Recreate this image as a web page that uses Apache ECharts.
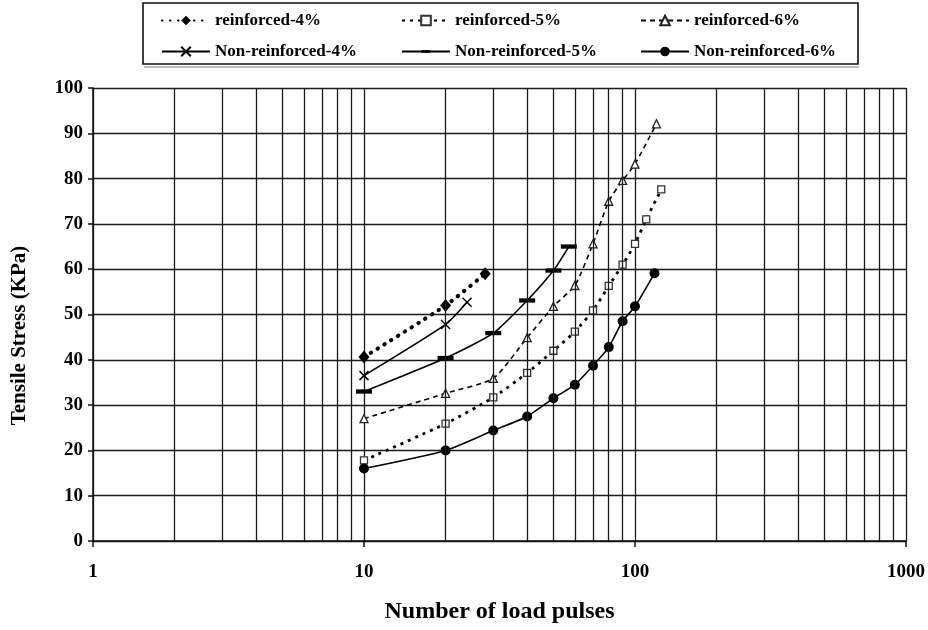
<!DOCTYPE html>
<html>
<head>
<meta charset="utf-8">
<script src="https://cdn.jsdelivr.net/npm/echarts@6/dist/echarts.min.js"></script>
<style>
  html, body { margin: 0; padding: 0; background: #fff; }
  #chart { width: 928px; height: 630px; }
</style>
</head>
<body>
<div id="chart"></div>
<script>
// Tensile stress versus number of load pulses (log scale)
const seriesNames = [
  'reinforced-4%', 'reinforced-5%', 'reinforced-6%',
  'Non-reinforced-4%', 'Non-reinforced-5%', 'Non-reinforced-6%'
];

const pulsesR4 = [10, 20, 28];
const stressR4 = [40.6, 52.0, 59.0];

const pulsesR5 = [10, 20, 30, 40, 50, 60, 70, 80, 90, 100, 110, 125];
const stressR5 = [17.8, 25.9, 31.7, 37.1, 42.0, 46.2, 50.9, 56.3, 61.0, 65.6, 71.0, 77.6];

const pulsesR6 = [10, 20, 30, 40, 50, 60, 70, 80, 90, 100, 120];
const stressR6 = [27.0, 32.6, 35.9, 44.9, 51.8, 56.4, 65.6, 75.0, 79.6, 83.2, 92.1];

const pulsesN4 = [10, 20, 24];
const stressN4 = [36.5, 47.8, 52.7];

const pulsesN5 = [10, 20, 30, 40, 50, 57];
const stressN5 = [33.0, 40.4, 45.9, 53.1, 59.7, 65.0];

const pulsesN6 = [10, 20, 30, 40, 50, 60, 70, 80, 90, 100, 118];
const stressN6 = [16.0, 20.0, 24.4, 27.5, 31.5, 34.5, 38.7, 42.8, 48.5, 51.8, 59.1];

// vertical grid lines between the decades
const minorGridX = [2, 3, 4, 5, 6, 7, 8, 9, 20, 30, 40, 50, 60, 70, 80, 90,
                    200, 300, 400, 500, 600, 700, 800, 900];

const FONT = 'Liberation Serif';
const pairs = (xs, ys) => xs.map((x, i) => [x, ys[i]]);

// marker shapes: a cross, and a flat dash kept inside a square box
const CROSS = 'path://M0,0L10,10M10,0L0,10';
const DASH = 'path://M0,0M30,30M0,11H30V19H0Z';

const chart = echarts.init(document.getElementById('chart'), null, { renderer: 'canvas' });

function legendAt(name, left, top) {
  return {
    data: [name], left: left, top: top,
    itemWidth: 48, itemHeight: 12, itemGap: 0,
    padding: 0,
    textStyle: { fontFamily: FONT, fontWeight: 'bold', fontSize: 17, color: '#000' },
    selectedMode: false
  };
}

const option = {
  animation: false,
  backgroundColor: '#fff',
  grid: { left: 93, right: 22, top: 88, bottom: 89, containLabel: false },
  legend: [
    legendAt(seriesNames[0], 161, 12),
    legendAt(seriesNames[1], 401, 12),
    legendAt(seriesNames[2], 640, 12),
    legendAt(seriesNames[3], 161, 43),
    legendAt(seriesNames[4], 401, 43),
    legendAt(seriesNames[5], 640, 43)
  ],
  graphic: [
    { type: 'rect', shape: { x: 143, y: 3, width: 715, height: 61 },
      style: { fill: 'none', stroke: '#111', lineWidth: 1.6 }, z: 100 },
    { type: 'line', shape: { x1: 144, y1: 67, x2: 859, y2: 67 },
      style: { stroke: '#777', lineWidth: 1.2 }, z: 100 }
  ],
  xAxis: {
    type: 'log', logBase: 10, min: 1, max: 1000,
    name: 'Number of load pulses', nameLocation: 'middle', nameGap: 59,
    nameTextStyle: { fontFamily: FONT, fontWeight: 'bold', fontSize: 24, color: '#000' },
    axisLine: { show: true, lineStyle: { color: '#111', width: 1.5 } },
    axisTick: { show: true, length: 6, lineStyle: { color: '#111', width: 1.5 } },
    axisLabel: {
      margin: 22, fontFamily: FONT, fontWeight: 'bold', fontSize: 19, color: '#000',
      formatter: v => String(v)
    },
    splitLine: { show: true, lineStyle: { color: '#1a1a1a', width: 1.3 } }
  },
  yAxis: {
    type: 'value', min: 0, max: 100, interval: 10,
    name: 'Tensile Stress (KPa)', nameLocation: 'middle', nameGap: 63,
    nameTextStyle: {
      fontFamily: FONT, fontWeight: 'bold', fontSize: 21, color: '#000',
      padding: [0, 42, 0, 0]
    },
    axisLine: { show: true, lineStyle: { color: '#111', width: 1.5 } },
    axisTick: { show: true, length: 5, lineStyle: { color: '#111', width: 1.5 } },
    axisLabel: { margin: 10, fontFamily: FONT, fontWeight: 'bold', fontSize: 19, color: '#000' },
    splitLine: { show: true, lineStyle: { color: '#1a1a1a', width: 1.3 } }
  },
  series: [
    {
      name: seriesNames[0], type: 'line', data: pairs(pulsesR4, stressR4),
      smooth: 0.2, symbol: 'diamond', symbolSize: [11, 13],
      lineStyle: { color: '#000', width: 4, type: [0.5, 7.5], cap: 'round' },
      itemStyle: { color: '#000' },
      markLine: {
        silent: true, symbol: ['none', 'none'], animation: false,
        label: { show: false },
        lineStyle: { color: '#1a1a1a', width: 1.3, type: 'solid' },
        emphasis: { disabled: true },
        data: minorGridX.map(v => ({ xAxis: v }))
      }
    },
    {
      name: seriesNames[1], type: 'line', data: pairs(pulsesR5, stressR5),
      smooth: 0.2, symbol: 'rect', symbolSize: 7,
      lineStyle: { color: '#000', width: 2.8, type: [3, 5] },
      itemStyle: { color: '#fff', borderColor: '#333', borderWidth: 1.3 }
    },
    {
      name: seriesNames[2], type: 'line', data: pairs(pulsesR6, stressR6),
      smooth: 0.2, symbol: 'triangle', symbolSize: 8,
      lineStyle: { color: '#000', width: 1.6, type: [5, 4] },
      itemStyle: { color: '#fff', borderColor: '#222', borderWidth: 1.3 }
    },
    {
      name: seriesNames[3], type: 'line', data: pairs(pulsesN4, stressN4),
      smooth: 0.2, symbol: CROSS, symbolSize: 9,
      lineStyle: { color: '#000', width: 1.6 },
      itemStyle: { color: '#000', borderColor: '#000', borderWidth: 1.5 }
    },
    {
      name: seriesNames[4], type: 'line', data: pairs(pulsesN5, stressN5),
      smooth: 0.2, symbol: DASH, symbolSize: 16,
      lineStyle: { color: '#000', width: 1.6 },
      itemStyle: { color: '#000' }
    },
    {
      name: seriesNames[5], type: 'line', data: pairs(pulsesN6, stressN6),
      smooth: 0.2, symbol: 'circle', symbolSize: 10,
      lineStyle: { color: '#000', width: 1.6 },
      itemStyle: { color: '#000' }
    }
  ]
};

chart.setOption(option);
</script>
</body>
</html>
